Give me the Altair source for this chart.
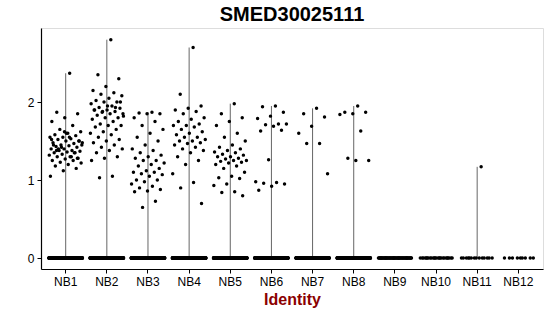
import altair as alt
import pandas as pd

groups = ["NB1", "NB2", "NB3", "NB4", "NB5", "NB6", "NB7", "NB8", "NB9", "NB10", "NB11", "NB12"]

# non-zero expression values per identity
nb1 = [2.37, 1.87, 1.85, 1.80, 1.75, 1.70, 1.65, 1.62, 1.60, 1.58, 1.57, 1.55, 1.55, 1.53, 1.52,
       1.50, 1.50, 1.48, 1.47, 1.45, 1.45, 1.44, 1.43, 1.42, 1.40, 1.40, 1.38, 1.38, 1.37, 1.36,
       1.35, 1.35, 1.33, 1.32, 1.30, 1.30, 1.28, 1.27, 1.25, 1.25, 1.23, 1.22, 1.20, 1.18, 1.15,
       1.12, 1.05, 1.30, 1.40, 1.50, 1.60, 1.45, 1.35, 1.42, 1.48, 1.55, 1.38, 1.28, 1.62, 1.52]
nb2 = [2.80, 2.35, 2.30, 2.20, 2.15, 2.12, 2.10, 2.08, 2.05, 2.02, 2.00, 2.00, 1.98, 1.95, 1.93,
       1.92, 1.90, 1.90, 1.88, 1.87, 1.85, 1.85, 1.83, 1.80, 1.80, 1.78, 1.75, 1.72, 1.70, 1.70,
       1.68, 1.65, 1.62, 1.60, 1.58, 1.55, 1.52, 1.50, 1.48, 1.45, 1.42, 1.40, 1.38, 1.35, 1.30,
       1.28, 1.25, 1.05, 1.03, 2.00, 1.95, 1.90, 1.93, 1.88, 1.82]
nb3 = [1.87, 1.86, 1.85, 1.85, 1.80, 1.75, 1.70, 1.65, 1.60, 1.55, 1.50, 1.45, 1.40, 1.38, 1.35,
       1.32, 1.30, 1.28, 1.25, 1.25, 1.22, 1.20, 1.18, 1.15, 1.12, 1.10, 1.10, 1.08, 1.07, 1.05,
       1.00, 1.00, 0.98, 0.95, 0.92, 0.90, 0.88, 0.86, 0.85, 0.73, 0.65]
nb4 = [2.70, 2.10, 1.95, 1.92, 1.90, 1.88, 1.85, 1.80, 1.78, 1.75, 1.72, 1.70, 1.70, 1.68, 1.65,
       1.62, 1.60, 1.58, 1.55, 1.55, 1.52, 1.50, 1.50, 1.48, 1.47, 1.45, 1.42, 1.40, 1.38, 1.35,
       1.30, 1.25, 1.20, 1.08, 0.97, 0.90, 0.70]
nb5 = [1.98, 1.85, 1.80, 1.75, 1.70, 1.60, 1.55, 1.50, 1.45, 1.42, 1.40, 1.38, 1.36, 1.35, 1.33,
       1.32, 1.30, 1.30, 1.28, 1.27, 1.25, 1.25, 1.24, 1.23, 1.22, 1.20, 1.18, 1.15, 1.10, 1.05,
       1.03, 1.02, 0.95, 0.93, 0.85, 0.84, 0.80]
nb6 = [1.95, 1.94, 1.87, 1.82, 1.79, 1.72, 1.71, 1.72, 1.69, 1.63, 1.64, 1.26, 0.98, 0.97, 0.96,
       0.95, 0.92, 0.87]
nb7 = [1.92, 1.85, 1.81, 1.69, 1.60, 1.47, 1.47, 1.08]
nb8 = [1.95, 1.87, 1.87, 1.85, 1.84, 1.63, 1.28, 1.25, 1.25]
nb9 = []
nb10 = []
nb11 = [1.17]
nb12 = []
values_by_group = [nb1, nb2, nb3, nb4, nb5, nb6, nb7, nb8, nb9, nb10, nb11, nb12]

# number of cells with zero expression per identity (estimated)
zero_counts = [300, 300, 300, 300, 300, 220, 220, 220, 60, 25, 14, 9]

rows = []
for g, vals, nz in zip(groups, values_by_group, zero_counts):
    for v in vals:
        rows.append({"ident": g, "value": v})
    for _ in range(nz):
        rows.append({"ident": g, "value": 0.0})
df = pd.DataFrame(rows)

FONT = "Liberation Sans"

xenc = alt.X("ident:N", sort=groups, title="Identity",
             scale=alt.Scale(paddingInner=0, paddingOuter=0.1),
             axis=alt.Axis(labelAngle=0, labelFontSize=12, labelColor="black", labelFont=FONT,
                           titleFontSize=16, titleFont=FONT, titleColor="#8B0000",
                           titleFontWeight="bold", titlePadding=4, domainColor="black",
                           tickColor="black", tickSize=4, labelPadding=3, domainWidth=1.2))
yscale = alt.Scale(domain=[-0.14, 2.95], nice=False, zero=False)
yaxis = alt.Axis(values=[0, 1, 2], labelFontSize=12, labelColor="black", labelFont=FONT,
                 grid=False, domainColor="black", tickColor="black", tickSize=4,
                 labelPadding=3, domainWidth=1.2, title=None)

base = alt.Chart(df)

violins = base.transform_aggregate(
    vmax="max(value)", groupby=["ident"]
).transform_filter(alt.datum.vmax > 0).mark_rule(color="#666666", strokeWidth=1).encode(
    x=xenc,
    y=alt.Y("vmax:Q", scale=yscale, axis=yaxis),
    y2=alt.datum(0),
)

points = base.transform_window(
    rn="row_number()", groupby=["ident"]
).transform_calculate(
    jit="((datum.rn * 0.6180339887) % 1 - 0.5) * 0.82"
).mark_circle(color="black", opacity=1, size=12).encode(
    x=xenc,
    xOffset=alt.XOffset("jit:Q", scale=alt.Scale(domain=[-0.5, 0.5])),
    y=alt.Y("value:Q", scale=yscale, axis=yaxis),
)

chart = alt.layer(violins, points).properties(
    width=502, height=241,
    title=alt.TitleParams("SMED30025111", fontSize=20, font=FONT, fontWeight="bold",
                          color="black", anchor="middle", offset=3),
    autosize=alt.AutoSizeParams(type="none"),
    padding={"left": 41, "top": 28, "right": 7, "bottom": 47},
).configure_view(stroke=None).configure(background="white")

chart.save("out.html", embed_options={"renderer": "svg", "actions": False})
